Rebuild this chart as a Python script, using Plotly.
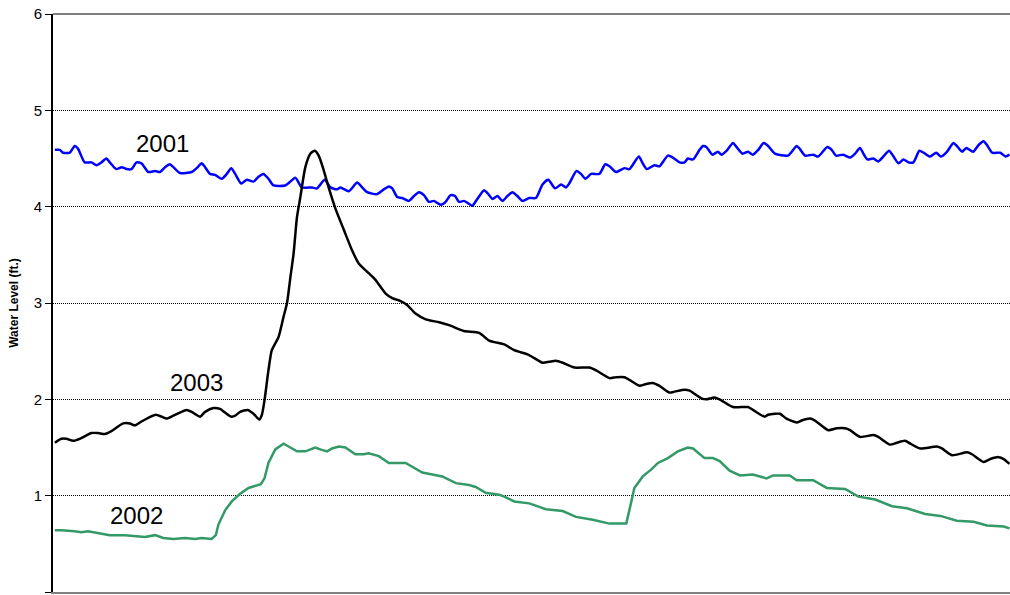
import plotly.graph_objects as go

# Day of year (x) and water level in ft (y)
days_2001 = [0.7, 2.6, 3.8, 6.4, 8.3, 9.6, 12.1, 14.7, 16.6, 18.5, 20.4, 21.7, 24.2, 26.2, 28.1, 30.0,
             31.9, 33.8, 36.4, 39.0, 40.9, 42.8, 44.7, 46.0, 48.5, 53.0, 54.9, 56.8, 58.1, 60.0, 61.9,
             64.5, 66.4, 68.1, 69.6, 71.9, 74.0, 76.6, 78.5, 80.4, 82.3, 84.3, 88.7, 90.7, 92.6, 95.1,
             98.9, 100.8, 103.8, 106.0, 108.5, 109.8, 113.0, 116.2, 118.1, 120.0, 123.8, 126.4, 128.3,
             129.6, 131.5, 133.4, 136.0, 137.9, 139.8, 141.7, 143.6, 145.5, 148.1, 150.0, 151.9, 153.6,
             155.1, 157.0, 158.3, 160.2, 162.1, 164.7, 166.0, 167.9, 169.8, 171.7, 173.6, 175.5, 177.4,
             179.4, 181.9, 184.5, 187.0, 189.2, 191.8, 194.1, 196.0, 197.2, 200.0, 201.7, 203.4, 205.6,
             208.7, 211.0, 212.6, 215.1, 218.3, 220.2, 223.8, 225.3, 226.8, 229.8, 231.7, 234.9, 236.8,
             239.4, 241.3, 242.5, 244.5, 247.0, 248.3, 249.6, 251.9, 254.0, 255.3, 257.3, 259.8, 261.1,
             263.4, 265.5, 267.4, 269.4, 271.5, 273.2, 275.8, 280.8, 284.1, 285.3, 287.3, 290.4, 292.3,
             295.8, 297.5, 299.1, 301.9, 304.5, 306.4, 308.3, 309.6, 311.1, 313.4, 315.3, 317.2, 319.4,
             320.4, 323.0, 324.9, 326.8, 328.7, 331.0, 332.6, 335.1, 337.4, 339.2, 341.5, 344.0, 345.3,
             347.3, 348.9, 351.5, 353.6, 355.5, 356.8, 358.8, 361.9, 363.9, 365.4]
level_2001 = [4.59, 4.59, 4.56, 4.56, 4.63, 4.60, 4.46, 4.46, 4.43, 4.46, 4.50, 4.46, 4.39, 4.41, 4.39, 4.39,
              4.46, 4.45, 4.36, 4.37, 4.36, 4.41, 4.44, 4.41, 4.35, 4.36, 4.40, 4.45, 4.41, 4.34, 4.33,
              4.29, 4.34, 4.40, 4.34, 4.24, 4.28, 4.26, 4.31, 4.34, 4.29, 4.22, 4.22, 4.26, 4.30, 4.20,
              4.20, 4.19, 4.28, 4.20, 4.18, 4.20, 4.16, 4.25, 4.20, 4.15, 4.13, 4.18, 4.21, 4.19, 4.10,
              4.09, 4.06, 4.11, 4.15, 4.12, 4.05, 4.06, 4.02, 4.05, 4.12, 4.11, 4.05, 4.06, 4.04, 4.01,
              4.08, 4.17, 4.14, 4.08, 4.11, 4.06, 4.11, 4.15, 4.11, 4.06, 4.09, 4.09, 4.23, 4.28, 4.19,
              4.23, 4.20, 4.24, 4.37, 4.34, 4.29, 4.34, 4.34, 4.44, 4.42, 4.36, 4.40, 4.39, 4.52, 4.45,
              4.39, 4.43, 4.42, 4.53, 4.51, 4.46, 4.46, 4.50, 4.49, 4.59, 4.63, 4.62, 4.54, 4.57, 4.54,
              4.58, 4.66, 4.62, 4.55, 4.57, 4.54, 4.59, 4.66, 4.63, 4.55, 4.53, 4.63, 4.60, 4.53, 4.54,
              4.52, 4.62, 4.59, 4.53, 4.54, 4.51, 4.55, 4.61, 4.55, 4.49, 4.50, 4.47, 4.52, 4.58, 4.55,
              4.45, 4.49, 4.46, 4.46, 4.58, 4.56, 4.52, 4.56, 4.52, 4.57, 4.66, 4.63, 4.57, 4.61, 4.57,
              4.64, 4.68, 4.64, 4.56, 4.56, 4.52, 4.54]

days_2003 = [0.7, 3.2, 5.1, 7.7, 10.2, 14.7, 17.2, 19.8, 22.3, 26.8, 29.4, 31.3, 33.8, 39.2, 41.5, 43.4,
             46.0, 51.1, 53.0, 56.2, 58.1, 61.3, 63.8, 65.8, 68.1, 69.6, 71.5, 74.4, 76.6, 78.8, 79.8,
             80.8, 82.3, 83.6, 86.2, 88.1, 89.4, 90.7, 91.9, 93.2, 94.5, 96.4, 98.3, 100.0, 101.5, 103.4,
             105.3, 107.9, 111.1, 114.2, 116.8, 120.6, 123.2, 127.0, 129.6, 132.8, 135.3, 138.5, 142.4,
             147.5, 151.3, 157.0, 162.8, 166.6, 172.4, 176.2, 181.9, 187.0, 189.6, 192.1, 194.7, 199.2,
             204.9, 207.5, 212.6, 215.1, 218.3, 220.9, 224.1, 226.6, 229.1, 231.7, 235.5, 237.5, 241.3,
             243.2, 247.7, 249.6, 252.8, 255.3, 259.8, 265.5, 267.4, 271.9, 273.2, 275.8, 277.7, 280.2,
             284.1, 286.0, 289.2, 291.1, 296.2, 299.4, 302.6, 304.5, 308.3, 313.4, 315.3, 319.8, 322.4,
             325.5, 327.5, 331.3, 337.7, 339.6, 343.4, 349.2, 351.1, 355.5, 358.1, 361.3, 363.2, 365.4]
level_2003 = [1.55, 1.59, 1.59, 1.57, 1.59, 1.65, 1.65, 1.64, 1.67, 1.75, 1.75, 1.73, 1.77, 1.84, 1.82, 1.80,
              1.83, 1.89, 1.87, 1.82, 1.87, 1.91, 1.90, 1.86, 1.82, 1.83, 1.87, 1.89, 1.85, 1.79, 1.84,
              1.99, 2.30, 2.51, 2.65, 2.86, 3.00, 3.27, 3.51, 3.89, 4.10, 4.41, 4.55, 4.58, 4.53, 4.38,
              4.20, 3.98, 3.76, 3.55, 3.41, 3.31, 3.24, 3.10, 3.05, 3.02, 2.98, 2.89, 2.83,
              2.80, 2.77, 2.71, 2.69, 2.61, 2.57, 2.51, 2.46, 2.38, 2.39, 2.40, 2.38, 2.33,
              2.33, 2.30, 2.22, 2.23, 2.23, 2.19, 2.14, 2.16, 2.17, 2.14, 2.07, 2.08, 2.10,
              2.09, 2.01, 2.00, 2.02, 1.99, 1.92, 1.92, 1.89, 1.82, 1.84, 1.85, 1.85, 1.80,
              1.76, 1.78, 1.80, 1.78, 1.68, 1.70, 1.70, 1.68, 1.61, 1.63, 1.61, 1.53, 1.55,
              1.57, 1.54, 1.49, 1.51, 1.49, 1.42, 1.45, 1.43, 1.35, 1.38, 1.40, 1.38, 1.33]

days_2002 = [0.7, 3.2, 8.3, 10.8, 13.4, 17.2, 21.7, 27.5, 30.7, 35.1, 39.0, 42.1, 46.0, 50.4, 54.3, 56.8,
             60.6, 62.2, 63.2, 65.8, 68.3, 71.5, 74.7, 77.3, 79.4, 80.8, 82.3, 84.9, 88.1, 90.0, 93.2,
             96.4, 100.2, 102.1, 104.7, 106.6, 109.2, 111.7, 115.5, 118.7, 120.6, 124.5, 128.3, 134.7,
             136.0, 141.1, 146.8, 148.7, 153.9, 158.9, 161.5, 165.3, 170.4, 172.4, 176.2, 181.9, 188.3,
             194.7, 199.8, 206.2, 212.6, 219.0, 220.2, 222.1, 225.3, 228.5, 231.1, 234.9, 238.7, 242.5,
             244.5, 248.9, 252.1, 254.7, 258.5, 262.4, 267.4, 272.6, 275.1, 281.5, 284.1, 290.4, 295.6,
             302.6, 307.7, 314.1, 320.5, 326.2, 333.2, 339.0, 345.3, 351.7, 356.8, 363.2, 365.4]
level_2002 = [0.64, 0.64, 0.63, 0.62, 0.63, 0.61, 0.59, 0.59, 0.58, 0.57, 0.59, 0.56, 0.55, 0.56, 0.55, 0.56,
              0.55, 0.59, 0.70, 0.85, 0.94, 1.02, 1.08, 1.10, 1.12, 1.18, 1.34, 1.48, 1.54, 1.51, 1.46,
              1.46, 1.50, 1.48, 1.46, 1.49, 1.51, 1.50, 1.43, 1.43, 1.44, 1.41, 1.34, 1.34,
              1.32, 1.24, 1.21, 1.20, 1.13, 1.11, 1.09, 1.03, 1.01, 0.99, 0.94, 0.92, 0.86,
              0.84, 0.78, 0.75, 0.71, 0.71, 0.85, 1.08, 1.20, 1.27, 1.34, 1.39, 1.46, 1.50,
              1.49, 1.39, 1.39, 1.36, 1.26, 1.21, 1.22, 1.18, 1.21, 1.21, 1.16, 1.16, 1.08,
              1.07, 0.99, 0.96, 0.89, 0.87, 0.81, 0.79, 0.74, 0.73, 0.69, 0.68, 0.66]

series_names = ["2001", "2003", "2002"]
series_colors = ["#0000FF", "#000000", "#339966"]
series_shapes = ["spline", "spline", "linear"]
label_x = [42, 55, 32]
label_y = [4.66, 2.17, 0.79]

y_ticks = [0, 1, 2, 3, 4, 5, 6]

fig = go.Figure()
for name, xs, ys, col, shp in zip(series_names,
                                  [days_2001, days_2003, days_2002],
                                  [level_2001, level_2003, level_2002],
                                  series_colors, series_shapes):
    fig.add_trace(go.Scatter(x=xs, y=ys, mode="lines", name=name,
                             line=dict(color=col, width=2.5, shape=shp, smoothing=0.6),
                             showlegend=False, hoverinfo="skip"))

for name, lx, ly in zip(series_names, label_x, label_y):
    fig.add_annotation(x=lx, y=ly, text=name, showarrow=False,
                       font=dict(family="Liberation Sans, Arial", size=24, color="#000000"))

# gray frame line along the top of the plot area (no right border)
fig.add_shape(type="line", xref="paper", yref="paper", x0=0, x1=1, y0=1, y1=1,
              line=dict(color="#808080", width=2), layer="above")

fig.update_layout(
    width=1010, height=595,
    margin=dict(l=53, r=0, t=14, b=3),
    paper_bgcolor="white", plot_bgcolor="white",
    font=dict(family="Liberation Sans, Arial", color="#000000"),
    xaxis=dict(range=[0, 365.6], showgrid=False, zeroline=False, showticklabels=False,
               ticks="", showline=True, linecolor="#808080", linewidth=2, mirror=False,
               automargin=False),
    yaxis=dict(range=[0, 6], tickvals=y_ticks, ticktext=[str(t) for t in y_ticks],
               showgrid=True, gridcolor="#000000", gridwidth=1, griddash="1px,1px",
               zeroline=False, showline=True, linecolor="#000000", linewidth=2,
               ticks="outside", ticklen=6, tickcolor="#000000", tickwidth=1,
               tickfont=dict(size=15, family="Liberation Sans, Arial"),
               automargin=False,
               title=dict(text="<b>Water Level (ft.)</b>", font=dict(size=12), standoff=12)),
)

fig.write_html("out.html", config={"displayModeBar": False},
               post_script="document.body.style.margin='0';document.body.style.overflow='hidden';")
